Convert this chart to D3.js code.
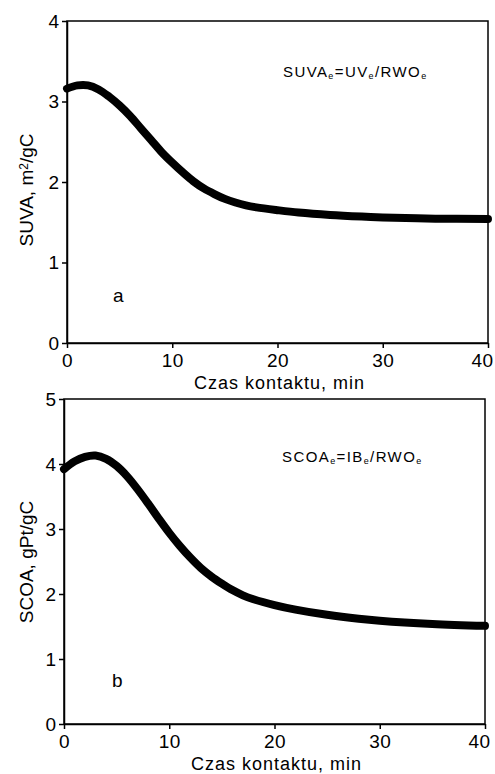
<!DOCTYPE html>
<html>
<head>
<meta charset="utf-8">
<script src="https://cdn.jsdelivr.net/npm/d3@7"></script>
<style>
  body { margin: 0; background: #fff; }
  svg { display: block; }
  text { font-family: "Liberation Sans", Arial, sans-serif; fill: #000; }
  .tick text { font-size: 19px; }
  .domain, .tick line { stroke: #000; stroke-width: 1.5; }
</style>
</head>
<body>
<svg id="chart" width="495" height="774"></svg>
<script>
// panel a - SUVA values
var timeA = [0, 1, 2, 3, 4, 5, 6, 7, 8, 9, 10, 11, 12, 13, 14, 15, 16, 17, 18, 20, 22, 25, 28, 30, 35, 40];
var suva = [3.16, 3.2, 3.2, 3.15, 3.06, 2.95, 2.82, 2.67, 2.52, 2.37, 2.24, 2.12, 2.01, 1.92, 1.85, 1.79, 1.745, 1.71, 1.685, 1.65, 1.62, 1.59, 1.57, 1.56, 1.545, 1.54];

// panel b - SCOA values
var timeB = [0, 1, 2, 3, 4, 5, 6, 7, 8, 9, 10, 11, 12, 13, 14, 15, 16, 17, 18, 20, 22, 25, 28, 30, 35, 40];
var scoa = [3.92, 4.04, 4.11, 4.13, 4.08, 3.97, 3.81, 3.61, 3.39, 3.16, 2.94, 2.74, 2.56, 2.4, 2.27, 2.16, 2.06, 1.98, 1.92, 1.83, 1.76, 1.68, 1.62, 1.59, 1.54, 1.51];

// ticks
var xTicks = [0, 10, 20, 30, 40];
var yTicksA = [0, 1, 2, 3, 4];
var yTicksB = [0, 1, 2, 3, 4, 5];

var svg = d3.select('#chart');

// draw one framed panel
function drawPanel(p) {
	var x = d3.scaleLinear().domain([0, 40]).range([p.left, p.right]);
	var y = d3.scaleLinear().domain([0, p.yMax]).range([p.bottom, p.top]);
	var g = svg.append('g');

	// frame
	g.append('rect')
		.attr('x', p.left).attr('y', p.top)
		.attr('width', p.right - p.left).attr('height', p.bottom - p.top)
		.attr('fill', 'none').attr('stroke', '#000').attr('stroke-width', 1.5);

	// axes
	var xa = g.append('g')
		.attr('transform', 'translate(0,' + p.bottom + ')')
		.call(d3.axisBottom(x).tickValues(xTicks).tickFormat(d3.format('d'))
			.tickSize(5).tickPadding(6).tickSizeOuter(0));
	xa.selectAll('text').style('letter-spacing', '0.5px');
	// last label sits against the page edge
	xa.selectAll('text').filter(function(d) { return d === 40; }).attr('dx', -6);

	g.append('g')
		.attr('transform', 'translate(' + p.left + ',0)')
		.call(d3.axisLeft(y).tickValues(p.yTicks).tickFormat(d3.format('d'))
			.tickSize(5).tickPadding(3).tickSizeOuter(0));

	// curve
	var line = d3.line()
		.x(function(d, i) { return x(p.xs[i]); })
		.y(function(d) { return y(d); })
		.curve(d3.curveCatmullRom.alpha(0.5));
	g.append('path')
		.datum(p.ys)
		.attr('d', line)
		.attr('fill', 'none')
		.attr('stroke', '#000')
		.attr('stroke-width', 8)
		.attr('stroke-linecap', 'round');

	// x title
	g.append('text')
		.attr('x', (p.left + p.right) / 2 + 2)
		.attr('y', p.xTitleY)
		.attr('text-anchor', 'middle')
		.style('font-size', '18px')
		.style('letter-spacing', '1px')
		.text('Czas kontaktu, min');

	// y title
	var yt = g.append('text')
		.attr('transform', 'rotate(-90)')
		.attr('x', -p.yTitleMid)
		.attr('y', 33)
		.attr('text-anchor', 'middle')
		.style('font-size', '19px');
	p.yTitle.forEach(function(part) {
		var t = yt.append('tspan').text(part.t);
		if (part.sup) t.attr('dy', '-0.45em').style('font-size', '12px');
		if (part.after) t.attr('dy', '0.3em');
	});

	// formula
	var f = g.append('text')
		.attr('x', p.formulaX)
		.attr('y', p.formulaY)
		.style('font-size', '15px')
		.style('letter-spacing', '1.4px');
	p.formula.forEach(function(part, i) {
		var t = f.append('tspan').text(part);
		if (part === 'e') t.style('font-size', '9px').attr('dy', 2);
		else if (i > 0) t.attr('dy', -2);
	});

	// panel letter
	g.append('text')
		.attr('x', p.letterX)
		.attr('y', p.letterY)
		.style('font-size', '19px')
		.text(p.letter);
}

drawPanel({
	left: 67, right: 488, top: 21, bottom: 343, yMax: 4, yTicks: yTicksA,
	xs: timeA, ys: suva, xTitleY: 389, yTitleMid: 190,
	yTitle: [{t: 'SUVA, m'}, {t: '2', sup: true}, {t: '/gC', after: true}],
	formula: ['SUVA', 'e', '=UV', 'e', '/RWO', 'e'], formulaX: 283, formulaY: 77,
	letter: 'a', letterX: 113, letterY: 302
});

drawPanel({
	left: 64, right: 485, top: 399, bottom: 724, yMax: 5, yTicks: yTicksB,
	xs: timeB, ys: scoa, xTitleY: 770, yTitleMid: 562,
	yTitle: [{t: 'SCOA, gPt/gC'}],
	formula: ['SCOA', 'e', '=IB', 'e', '/RWO', 'e'], formulaX: 282, formulaY: 462,
	letter: 'b', letterX: 112, letterY: 687
});
</script>
</body>
</html>
